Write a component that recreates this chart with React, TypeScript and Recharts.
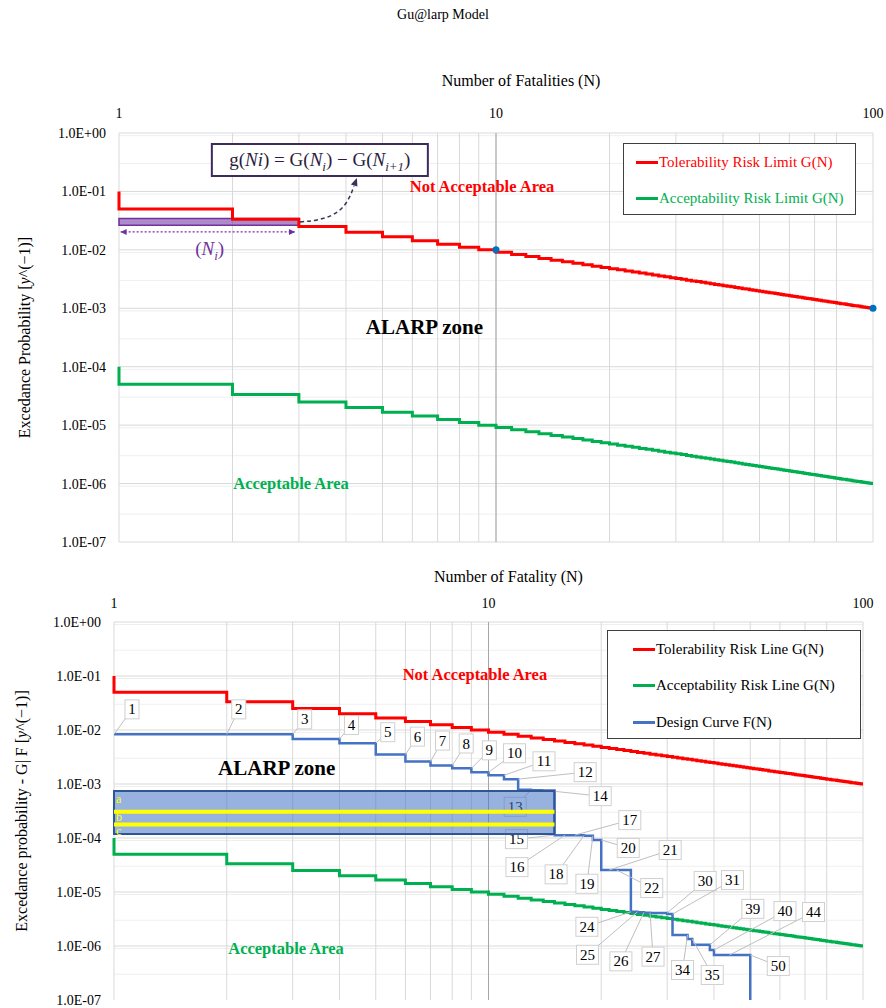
import React from 'react';
import {
  ComposedChart,
  Line,
  XAxis,
  YAxis,
  CartesianGrid,
  ReferenceArea,
  ReferenceDot,
  Legend,
} from 'recharts';

const FONT = '"Liberation Serif", "Times New Roman", Times, serif';

// number of fatalities, 1..100
const N_VALUES = [
  1, 2, 3, 4, 5, 6, 7, 8, 9, 10, 11, 12, 13, 14, 15, 16, 17, 18, 19, 20,
  21, 22, 23, 24, 25, 26, 27, 28, 29, 30, 31, 32, 33, 34, 35, 36, 37, 38, 39, 40,
  41, 42, 43, 44, 45, 46, 47, 48, 49, 50, 51, 52, 53, 54, 55, 56, 57, 58, 59, 60,
  61, 62, 63, 64, 65, 66, 67, 68, 69, 70, 71, 72, 73, 74, 75, 76, 77, 78, 79, 80,
  81, 82, 83, 84, 85, 86, 87, 88, 89, 90, 91, 92, 93, 94, 95, 96, 97, 98, 99, 100,
];

// tolerability limit G(N)
const TOLERABILITY = [
  0.1, 0.05, 0.0333, 0.025, 0.02, 0.0167, 0.0143, 0.0125, 0.0111, 0.01,
  0.00909, 0.00833, 0.00769, 0.00714, 0.00667, 0.00625, 0.00588, 0.00556, 0.00526, 0.005,
  0.00476, 0.00455, 0.00435, 0.00417, 0.004, 0.00385, 0.0037, 0.00357, 0.00345, 0.00333,
  0.00323, 0.00313, 0.00303, 0.00294, 0.00286, 0.00278, 0.0027, 0.00263, 0.00256, 0.0025,
  0.00244, 0.00238, 0.00233, 0.00227, 0.00222, 0.00217, 0.00213, 0.00208, 0.00204, 0.002,
  0.00196, 0.00192, 0.00189, 0.00185, 0.00182, 0.00179, 0.00175, 0.00172, 0.00169, 0.00167,
  0.00164, 0.00161, 0.00159, 0.00156, 0.00154, 0.00152, 0.00149, 0.00147, 0.00145, 0.00143,
  0.00141, 0.00139, 0.00137, 0.00135, 0.00133, 0.00132, 0.0013, 0.00128, 0.00127, 0.00125,
  0.00123, 0.00122, 0.0012, 0.00119, 0.00118, 0.00116, 0.00115, 0.00114, 0.00112, 0.00111,
  0.0011, 0.00109, 0.00108, 0.00106, 0.00105, 0.00104, 0.00103, 0.00102, 0.00101, 0.001,
];

// acceptability limit G(N)
const ACCEPTABILITY = [
  1e-4, 5e-5, 3.33e-5, 2.5e-5, 2e-5, 1.67e-5, 1.43e-5, 1.25e-5, 1.11e-5, 1e-5,
  9.09e-6, 8.33e-6, 7.69e-6, 7.14e-6, 6.67e-6, 6.25e-6, 5.88e-6, 5.56e-6, 5.26e-6, 5e-6,
  4.76e-6, 4.55e-6, 4.35e-6, 4.17e-6, 4e-6, 3.85e-6, 3.7e-6, 3.57e-6, 3.45e-6, 3.33e-6,
  3.23e-6, 3.13e-6, 3.03e-6, 2.94e-6, 2.86e-6, 2.78e-6, 2.7e-6, 2.63e-6, 2.56e-6, 2.5e-6,
  2.44e-6, 2.38e-6, 2.33e-6, 2.27e-6, 2.22e-6, 2.17e-6, 2.13e-6, 2.08e-6, 2.04e-6, 2e-6,
  1.96e-6, 1.92e-6, 1.89e-6, 1.85e-6, 1.82e-6, 1.79e-6, 1.75e-6, 1.72e-6, 1.69e-6, 1.67e-6,
  1.64e-6, 1.61e-6, 1.59e-6, 1.56e-6, 1.54e-6, 1.52e-6, 1.49e-6, 1.47e-6, 1.45e-6, 1.43e-6,
  1.41e-6, 1.39e-6, 1.37e-6, 1.35e-6, 1.33e-6, 1.32e-6, 1.3e-6, 1.28e-6, 1.27e-6, 1.25e-6,
  1.23e-6, 1.22e-6, 1.2e-6, 1.19e-6, 1.18e-6, 1.16e-6, 1.15e-6, 1.14e-6, 1.12e-6, 1.11e-6,
  1.1e-6, 1.09e-6, 1.08e-6, 1.06e-6, 1.05e-6, 1.04e-6, 1.03e-6, 1.02e-6, 1.01e-6, 1e-6,
];

// blue points on the top chart
const MARKER_N = [10, 100];
const MARKER_G = [0.01, 0.001];

// design curve F(N), value of the step that ends at N
const DESIGN_N = [
  1, 2, 3, 4, 5, 6, 7, 8, 9, 10, 11, 12, 13, 14, 15, 16, 17, 18, 19, 20,
  21, 22, 23, 24, 25, 26, 27, 28, 29, 30, 31, 32, 33, 34, 35, 36, 37, 38, 39, 40,
  41, 42, 43, 44, 45, 46, 47, 48, 49, 50, 50,
];
const DESIGN_F = [
  8.3e-3, 8.3e-3, 8.3e-3, 6.8e-3, 5.7e-3, 3.5e-3, 2.6e-3, 2.2e-3, 1.95e-3, 1.65e-3,
  1.45e-3, 1.23e-3, 7.8e-4, 7.7e-4, 7.6e-4, 1.13e-4, 1.13e-4, 1.12e-4, 1.1e-4, 9.2e-5,
  2.55e-5, 2.55e-5, 2.55e-5, 2.55e-5, 4.3e-6, 4.2e-6, 4.15e-6, 4.1e-6, 4.1e-6, 4.1e-6,
  3.9e-6, 1.6e-6, 1.6e-6, 1.6e-6, 1.35e-6, 1.05e-6, 1.05e-6, 1.05e-6, 1.05e-6, 8.4e-7,
  6.8e-7, 6.8e-7, 6.8e-7, 6.8e-7, 6.8e-7, 6.8e-7, 6.8e-7, 6.8e-7, 6.8e-7, 6.8e-7, 1e-7,
];

// numbered points on the design curve
const DESIGN_TAGS = [
  1, 2, 3, 4, 5, 6, 7, 8, 9, 10, 11, 12, 13, 14, 15, 16, 17, 18, 19, 20, 21, 22,
  24, 25, 26, 27, 30, 31, 34, 35, 39, 40, 44, 50,
];
// these tags point at the foot of the drop
const TAGS_AT_DROP = [15, 24];

// annotation band on the top chart (N = 1..3)
const SPAN_N = [1, 3];
const SPAN_G = [0.0264, 0.0343];
const SPAN_ARROW_N = [1.01, 2.93];
const SPAN_ARROW_G = 0.0203;

// design band on the bottom chart (N = 1..15), with lines a/b/c
const BAND_N = [1, 15];
const BAND_F = [1.18e-4, 7.4e-4];
const BAND_LINES = [3.05e-4, 1.78e-4];
const BAND_LETTERS = ['a', 'b', 'c'];
const BAND_LETTER_F = [5.25e-4, 2.44e-4, 1.36e-4];

const X_TICKS = [1, 10, 100];
const Y_TICKS = [1e-7, 1e-6, 1e-5, 1e-4, 1e-3, 1e-2, 1e-1, 1];

const TOP_SERIES = ['Tolerability Risk Limit G(N)', 'Acceptability Risk Limit G(N)'];
const BOTTOM_SERIES = ['Tolerability Risk Line G(N)', 'Acceptability Risk Line G(N)', 'Design Curve F(N)'];

// label box offsets (px) from the point they describe
const TAG_OFFSET: Record<number, [number, number]> = {
  1: [18, -25], 2: [12, -25], 3: [12, -15], 4: [12, -14], 5: [12, -11], 6: [12, -18],
  7: [12, -21], 8: [14, -22], 9: [18, -18], 10: [26, -19], 11: [40, -14], 12: [67, -7],
  13: [-16, 17], 14: [57, 6], 15: [-38, 4], 16: [-48, 32], 17: [55, -15], 18: [-28, 39],
  19: [-6, 48], 20: [27, 8], 21: [61, -20], 22: [35, 18], 24: [-44, 15], 25: [-50, 43],
  26: [-23, 49], 27: [3, 44], 30: [38, -32], 31: [60, -34], 34: [-5, 35], 35: [20, 36],
  39: [43, -36], 40: [71, -39], 44: [84, -43], 50: [28, 11],
};

type Pt = { n: number; v: number };
const pairs = (xs: number[], ys: number[]): Pt[] => xs.map((n, i) => ({ n, v: ys[i] }));

const tolData = pairs(N_VALUES, TOLERABILITY);
const accData = pairs(N_VALUES, ACCEPTABILITY);
const markerData = pairs(MARKER_N, MARKER_G);
const designData = pairs(DESIGN_N, DESIGN_F);
const tagData = DESIGN_TAGS.map((n) => {
  const i = DESIGN_N.indexOf(n);
  return { n, v: DESIGN_F[TAGS_AT_DROP.includes(n) ? i + 1 : i] };
});
const spanArrow = SPAN_ARROW_N.map((n) => ({ n, v: SPAN_ARROW_G }));
const bandLines = BAND_LINES.map((f) => BAND_N.map((n) => ({ n, v: f })));

const GRID_X = [1, 2, 3, 4, 5, 6, 7, 8, 9, 10, 20, 30, 40, 50, 60, 70, 80, 90, 100];
const MINOR_Y: number[] = [];
Y_TICKS.slice(0, -1).forEach((d) => {
  for (let m = 2; m <= 9; m++) MINOR_Y.push(m * d);
});

const sci = (v: number) => {
  const e = Math.round(Math.log10(v));
  return `1.0E${e < 0 ? '-' : '+'}${String(Math.abs(e)).padStart(2, '0')}`;
};

const frame = (opts: {
  xTitle: string;
  yTitle: string;
  xTickMargin: number;
  xTitleDx: number;
  xTitleDy: number;
  yTitleDx: number;
}) => [
  <CartesianGrid key="g-minor" vertical={false} horizontalValues={MINOR_Y} stroke="#efefef" />,
  <CartesianGrid key="g-x" horizontal={false} verticalValues={GRID_X} stroke="#d9d9d9" />,
  <CartesianGrid key="g-y" vertical={false} horizontalValues={Y_TICKS} stroke="#d9d9d9" />,
  <CartesianGrid key="g-10" horizontal={false} verticalValues={[10]} stroke="#a6a6a6" />,
  <XAxis
    key="x"
    dataKey="n"
    type="number"
    scale="log"
    domain={[1, 100]}
    ticks={X_TICKS}
    orientation="top"
    height={30}
    axisLine={false}
    tickLine={false}
    tickSize={0}
    tickMargin={opts.xTickMargin}
    tick={{ fontSize: 14, fill: '#000', fontFamily: FONT }}
    label={(p: any) => (
      <text
        x={p.viewBox.x + p.viewBox.width / 2 + opts.xTitleDx}
        y={p.viewBox.y + opts.xTitleDy}
        textAnchor="middle"
        fontSize={16}
        fontFamily={FONT}
        fill="#000"
      >
        {opts.xTitle}
      </text>
    )}
  />,
  <YAxis
    key="y"
    type="number"
    scale="log"
    domain={[1e-7, 1]}
    ticks={Y_TICKS}
    width={100}
    axisLine={false}
    tickLine={false}
    tickSize={0}
    tickMargin={13}
    tickFormatter={sci}
    tick={{ fontSize: 14, fill: '#000', fontFamily: FONT }}
    label={(p: any) => {
      const cx = p.viewBox.x + opts.yTitleDx;
      const cy = p.viewBox.y + p.viewBox.height / 2;
      return (
        <text
          x={cx}
          y={cy + 5}
          transform={`rotate(-90 ${cx} ${cy})`}
          textAnchor="middle"
          fontSize={16}
          fontFamily={FONT}
          fill="#000"
        >
          {opts.yTitle}
          <tspan fontStyle="italic">y</tspan>^(−1)]
        </text>
      );
    }}
  />,
];

const note = (text: string, color: string, size: number) => (p: any) => (
  <text
    x={p.cx}
    y={p.cy + size * 0.33}
    textAnchor="middle"
    fill={color}
    fontSize={size}
    fontWeight="bold"
    fontFamily={FONT}
  >
    {text}
  </text>
);

const legendContent =
  (order: string[], w: number, h: number, rowH: number, pad: number, colored: boolean) => (p: any) => {
    const items = (p.payload || [])
      .filter((e: any) => e.type !== 'none' && order.includes(e.value))
      .sort((a: any, b: any) => order.indexOf(a.value) - order.indexOf(b.value));
    return (
      <div
        style={{
          width: w,
          height: h,
          boxSizing: 'border-box',
          border: '1px solid #404040',
          background: '#fff',
          fontFamily: FONT,
          fontSize: 15,
        }}
      >
        {items.map((e: any) => (
          <div key={e.value} style={{ height: rowH, display: 'flex', alignItems: 'center', paddingLeft: pad }}>
            <span style={{ display: 'inline-block', width: 22, height: 3, background: e.color }} />
            <span style={{ color: colored ? e.color : '#000', marginLeft: 1, whiteSpace: 'nowrap' }}>{e.value}</span>
          </div>
        ))}
      </div>
    );
  };

const ArrowTip = (p: any) => {
  const { cx, cy, index } = p;
  const s = index === 0 ? 1 : -1;
  return (
    <polygon
      key={`tip-${index}`}
      points={`${cx},${cy} ${cx + 6 * s},${cy - 3} ${cx + 6 * s},${cy + 3}`}
      fill="#7030a0"
    />
  );
};

const FormulaBox = (p: any) => {
  const { cx, cy } = p;
  const sub = { fontSize: 13, fontStyle: 'italic' as const };
  return (
    <g>
      <rect x={cx - 108} y={cy - 16} width={216} height={32} fill="#fff" stroke="#3d2b5c" strokeWidth={2} />
      <text x={cx} y={cy + 6} textAnchor="middle" fontSize={19} fontFamily={FONT} fill="#2b1d40">
        g(<tspan fontStyle="italic">Ni</tspan>) = G(<tspan fontStyle="italic">N</tspan>
        <tspan {...sub} dy={5}>i</tspan>
        <tspan dy={-5}>) − G(</tspan>
        <tspan fontStyle="italic">N</tspan>
        <tspan {...sub} dy={5}>i+1</tspan>
        <tspan dy={-5}>)</tspan>
      </text>
    </g>
  );
};

const NiLabel = (p: any) => (
  <text x={p.cx} y={p.cy + 6} textAnchor="middle" fontSize={19} fontFamily={FONT} fill="#7030a0">
    (<tspan fontStyle="italic">N</tspan>
    <tspan fontSize={13} fontStyle="italic" dy={5}>i</tspan>
    <tspan dy={-5}>)</tspan>
  </text>
);

const CurvedArrow = (p: any) => {
  const { cx, cy } = p;
  return (
    <g>
      <path
        d={`M${cx + 1},${cy} C${cx + 38},${cy - 2} ${cx + 48},${cy - 14} ${cx + 55},${cy - 36}`}
        stroke="#3b3355"
        strokeWidth={1.5}
        strokeDasharray="4 3"
        fill="none"
      />
      <polygon
        points={`${cx + 58},${cy - 44} ${cx + 52},${cy - 37.5} ${cx + 58.5},${cy - 35.5}`}
        fill="#3b3355"
      />
    </g>
  );
};

const DesignTag = (p: any) => {
  const { cx, cy, payload } = p;
  const [dx, dy] = TAG_OFFSET[payload.n] || [10, -10];
  const label = String(payload.n);
  const w = label.length > 1 ? 22 : 14;
  const h = 19;
  const bx = cx + dx;
  const by = cy + dy;
  return (
    <g key={`tag-${payload.n}`}>
      <line x1={cx} y1={cy} x2={bx} y2={by} stroke="#bfbfbf" strokeWidth={1} />
      <rect x={bx - w / 2} y={by - h / 2} width={w} height={h} fill="#fff" stroke="#d0d0d0" />
      <text x={bx} y={by + 5} textAnchor="middle" fontSize={15} fontFamily={FONT} fill="#000">
        {label}
      </text>
    </g>
  );
};

const BandLetter = (letter: string) => (p: any) => (
  <text x={p.cx + 2} y={p.cy + 4} fontSize={12} fontFamily={FONT} fill="#ffff00">
    {letter}
  </text>
);

const LimitChart = () => (
  <ComposedChart width={886} height={560} margin={{ top: 103, right: 13, bottom: 18, left: 19 }}>
    {frame({
      xTitle: 'Number of Fatalities (N)',
      yTitle: 'Excedance Probability [',
      xTickMargin: 15,
      xTitleDx: 25,
      xTitleDy: -17,
      yTitleDx: 6,
    })}
    <ReferenceArea
      x1={SPAN_N[0]}
      x2={SPAN_N[1]}
      y1={SPAN_G[0]}
      y2={SPAN_G[1]}
      fill="#7030a0"
      fillOpacity={0.55}
      stroke="#7030a0"
      strokeWidth={1.5}
    />
    <Line
      data={tolData}
      dataKey="v"
      type="stepBefore"
      stroke="#ff0000"
      strokeWidth={3}
      dot={false}
      activeDot={false}
      isAnimationActive={false}
      name={TOP_SERIES[0]}
    />
    <Line
      data={accData}
      dataKey="v"
      type="stepBefore"
      stroke="#00b050"
      strokeWidth={3}
      dot={false}
      activeDot={false}
      isAnimationActive={false}
      name={TOP_SERIES[1]}
    />
    <Line
      data={markerData}
      dataKey="v"
      stroke="none"
      dot={{ r: 3.5, fill: '#0070c0', stroke: '#0070c0', strokeWidth: 0 }}
      activeDot={false}
      legendType="none"
      isAnimationActive={false}
    />
    <Line
      data={spanArrow}
      dataKey="v"
      stroke="#7030a0"
      strokeWidth={1.2}
      strokeDasharray="2 2"
      dot={ArrowTip}
      activeDot={false}
      legendType="none"
      isAnimationActive={false}
    />
    <ReferenceDot x={1.74} y={0.0104} r={0} shape={NiLabel} />
    <ReferenceDot x={3} y={0.0301} r={0} shape={CurvedArrow} />
    <ReferenceDot x={3.41} y={0.345} r={0} shape={FormulaBox} />
    <ReferenceDot x={9.18} y={0.119} r={0} shape={note('Not Acceptable Area', '#ff0000', 16.5)} />
    <ReferenceDot x={6.46} y={4.83e-4} r={0} shape={note('ALARP zone', '#000', 21)} />
    <ReferenceDot x={2.86} y={1e-6} r={0} shape={note('Acceptable Area', '#00b050', 16.5)} />
    <Legend
      layout="vertical"
      align="center"
      verticalAlign="middle"
      wrapperStyle={{ left: 623, top: 143, width: 233, height: 72 }}
      content={legendContent(TOP_SERIES, 233, 72, 36, 12, true)}
    />
  </ComposedChart>
);

const DesignChart = () => (
  <ComposedChart width={886} height={448} margin={{ top: 32, right: 23, bottom: 8, left: 14 }}>
    {frame({
      xTitle: 'Number of Fatality (N)',
      yTitle: 'Excedance probability - G| F  [',
      xTickMargin: 14,
      xTitleDx: 20,
      xTitleDy: -10,
      yTitleDx: 8,
    })}
    <Line
      data={tolData}
      dataKey="v"
      type="stepBefore"
      stroke="#ff0000"
      strokeWidth={3}
      dot={false}
      activeDot={false}
      isAnimationActive={false}
      name={BOTTOM_SERIES[0]}
    />
    <Line
      data={accData}
      dataKey="v"
      type="stepBefore"
      stroke="#00b050"
      strokeWidth={3}
      dot={false}
      activeDot={false}
      isAnimationActive={false}
      name={BOTTOM_SERIES[1]}
    />
    <Line
      data={designData}
      dataKey="v"
      type="stepBefore"
      stroke="#4472c4"
      strokeWidth={2.5}
      dot={false}
      activeDot={false}
      isAnimationActive={false}
      name={BOTTOM_SERIES[2]}
    />
    <Line
      data={tagData}
      dataKey="v"
      stroke="none"
      dot={DesignTag}
      activeDot={false}
      legendType="none"
      isAnimationActive={false}
    />
    <ReferenceArea
      x1={BAND_N[0]}
      x2={BAND_N[1]}
      y1={BAND_F[0]}
      y2={BAND_F[1]}
      fill="#4472c4"
      fillOpacity={0.55}
      stroke="#2f5597"
      strokeWidth={2}
      zIndex={2100}
    />
    {bandLines.map((d, i) => (
      <Line
        key={`band-${i}`}
        data={d}
        dataKey="v"
        stroke="#ffff00"
        strokeWidth={4}
        dot={false}
        activeDot={false}
        legendType="none"
        isAnimationActive={false}
        zIndex={2200}
      />
    ))}
    {BAND_LETTERS.map((l, i) => (
      <ReferenceDot key={l} x={BAND_N[0]} y={BAND_LETTER_F[i]} r={0} shape={BandLetter(l)} zIndex={2300} />
    ))}
    <ReferenceDot x={9.2} y={0.1077} r={0} shape={note('Not Acceptable Area', '#ff0000', 16.5)} />
    <ReferenceDot x={2.72} y={1.96e-3} r={0} shape={note('ALARP zone', '#000', 21)} />
    <ReferenceDot x={2.88} y={8.8e-7} r={0} shape={note('Acceptable Area', '#00b050', 16.5)} />
    <Legend
      layout="vertical"
      align="center"
      verticalAlign="middle"
      wrapperStyle={{ left: 607, top: 70, width: 254, height: 109 }}
      content={legendContent(BOTTOM_SERIES, 254, 109, 36.5, 25, false)}
    />
  </ComposedChart>
);

export default function App() {
  return (
    <div
      style={{
        position: 'absolute',
        left: 0,
        top: 0,
        width: 886,
        height: 1008,
        background: '#fff',
        fontFamily: FONT,
      }}
    >
      <div style={{ position: 'absolute', left: 0, top: 0 }}>
        <LimitChart />
      </div>
      <div style={{ position: 'absolute', left: 0, top: 560 }}>
        <DesignChart />
      </div>
      <div
        style={{
          position: 'absolute',
          left: 0,
          top: 7,
          width: 886,
          textAlign: 'center',
          fontSize: 14,
          lineHeight: '16px',
        }}
      >
        Gu@larp Model
      </div>
    </div>
  );
}
